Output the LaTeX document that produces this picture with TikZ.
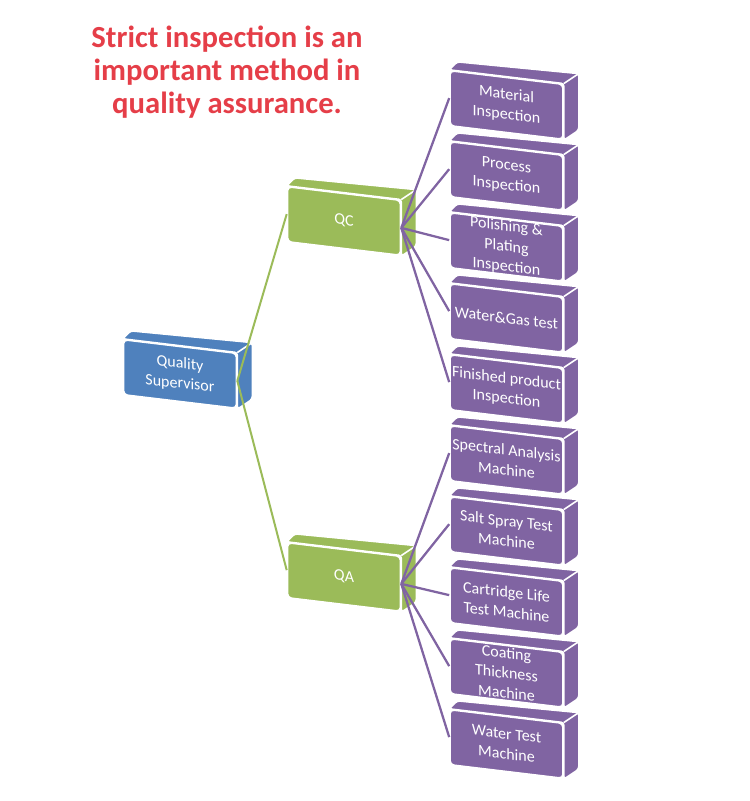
\documentclass[tikz,border=0pt]{standalone}
\usepackage{fontspec}
\setmainfont{Carlito}
\usetikzlibrary{calc,backgrounds}
\definecolor{supblue}{HTML}{4F81BD}
\definecolor{qgreen}{HTML}{9BBB59}
\definecolor{ipurple}{HTML}{8064A2}
\definecolor{titlered}{HTML}{E53E48}
\tikzset{
 face/.style={draw=white, line width=1.2pt, rounded corners=3pt, text=white, align=center,
   minimum width=84.75pt, minimum height=41.25pt, inner sep=0pt,
   font=\fontsize{12}{15}\selectfont, anchor=center, yslant=-0.12},
 gline/.style={qgreen, line width=1.5pt},
 pline/.style={ipurple, line width=1.7pt},
}
\newcommand{\cubebox}[4]{%
 \node[face, fill=#3] (#1) at #2 {#4};
 \begin{scope}[on background layer]
  \fill[#3, draw=white, line width=1.2pt, rounded corners=2pt] (#1.north west) -- ($(#1.north west)+(8,-8)$) -- ($(#1.north east)+(15,-10)$) -- ($(#1.south east)+(15,-10)$) -- (#1.south east) -- (#1.north east) -- cycle;
  \draw[white, line width=1.2pt] (#1.north east) -- ($(#1.north east)+(15,-10)$);
 \end{scope}}
\begin{document}
\begin{tikzpicture}[x=0.75pt, y=-0.75pt]
\useasboundingbox (0,0) rectangle (750,801);
\node[font=\fontsize{23}{25}\selectfont\bfseries, text=titlered, align=center] (title) at (227,72)
  {Strict inspection is an\\important method in\\quality assurance.};
\cubebox{sup}{(180,374)}{supblue}{Quality\\Supervisor}
\cubebox{qc}{(344,221)}{qgreen}{QC}
\cubebox{qa}{(344,577)}{qgreen}{QA}
\cubebox{p1}{(506.5,105)}{ipurple}{Material\\Inspection}
\cubebox{p2}{(506.5,176)}{ipurple}{Process\\Inspection}
\cubebox{p3}{(506.5,247)}{ipurple}{Polishing \&\\Plating\\Inspection}
\cubebox{p4}{(506.5,318)}{ipurple}{Water\&Gas test}
\cubebox{p5}{(506.5,389)}{ipurple}{Finished product\\Inspection}
\cubebox{p6}{(506.5,460)}{ipurple}{Spectral Analysis\\Machine}
\cubebox{p7}{(506.5,531)}{ipurple}{Salt Spray Test\\Machine}
\cubebox{p8}{(506.5,602)}{ipurple}{Cartridge Life\\Test Machine}
\cubebox{p9}{(506.5,673)}{ipurple}{Coating\\Thickness\\Machine}
\cubebox{p10}{(506.5,744)}{ipurple}{Water Test\\Machine}
\draw[gline] (sup.east) -- (qc.west);
\draw[gline] (sup.east) -- (qa.west);
\foreach \i in {1,...,5} {\draw[pline] (qc.east) -- (p\i.west);}
\foreach \i in {6,...,10} {\draw[pline] (qa.east) -- (p\i.west);}
\end{tikzpicture}
\end{document}
